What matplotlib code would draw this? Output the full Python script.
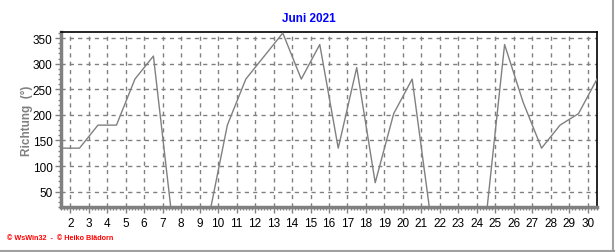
import matplotlib
matplotlib.use("Agg")
import matplotlib.pyplot as plt
from matplotlib.ticker import MultipleLocator, FixedLocator
from matplotlib.lines import Line2D

plt.rcParams['font.family'] = ['Liberation Sans', 'DejaVu Sans']

# Data: wind direction per day (plotted at day + 0.5)
days = list(range(1, 31))
richtung = [135, 135, 180, 180, 270, 315, 0, 0, 0, 180,
            270, 315, 360, 270, 337.5, 135, 292.5, 67.5, 202.5, 270,
            0, 0, 0, 0, 337.5, 225, 135, 180, 202.5, 270]
xtick_days = list(range(2, 31))
yticks = [50, 100, 150, 200, 250, 300, 350]

title = "Juni 2021"
ylabel = "Richtung  (°)"
footer = "© WsWin32  -  © Heiko Blädorn"

W, H = 616, 253
fig = plt.figure(figsize=(W / 100, H / 100), dpi=100)
fig.patch.set_facecolor('white')

L, R, T, B = 61, 597, 33, 208
ax = fig.add_axes([L / W, 1 - B / H, (R - L) / W, (B - T) / H])

xs = [d + 0.5 for d in days]
ax.plot(xs, richtung, color='#808080', lw=1.0, zorder=3, clip_on=True)

ax.set_xlim(1.5, 30.5)
ax.set_ylim(20, 362)

ax.xaxis.set_major_locator(FixedLocator(xtick_days))
ax.xaxis.set_minor_locator(MultipleLocator(1 / 6))
ax.yaxis.set_major_locator(FixedLocator(yticks))
ax.yaxis.set_minor_locator(MultipleLocator(10))

ax.grid(True, which='major', color='#808080', linestyle=(0, (3, 3)), lw=1.0, zorder=1)

ax.tick_params(axis='both', which='major', direction='out', length=4, width=1,
               color='#808080', labelsize=8.5, labelcolor='black', pad=2)
ax.tick_params(axis='both', which='minor', direction='out', length=2, width=1,
               color='#808080')
ax.tick_params(axis='x', which='major', pad=3)

for s in ['top', 'right']:
    ax.spines[s].set_color('black')
    ax.spines[s].set_linewidth(1.2)
for s in ['left', 'bottom']:
    ax.spines[s].set_color('#808080')
    ax.spines[s].set_linewidth(2.5)

fig.text(309 / W, 1 - 19 / H, title, color='#0000FF', fontsize=8.5,
         fontweight='bold', ha='center', va='center')
fig.text(27 / W, 1 - 121 / H, ylabel, color='#808080', fontsize=8.5,
         fontweight='bold', ha='center', va='center', rotation=90)
fig.text(7 / W, 1 - 239 / H, footer, color='#FF0000', fontsize=5.2,
         fontweight='bold', ha='left', va='center')

# outer frame (right and bottom shadow lines)
fig.add_artist(Line2D([613 / W, 613 / W], [1 - 252 / H, 1.0], transform=fig.transFigure,
                      color='#A0A0A0', lw=1.5))
fig.add_artist(Line2D([0, 614 / W], [1 - 251.5 / H, 1 - 251.5 / H], transform=fig.transFigure,
                      color='#A0A0A0', lw=1.5))

fig.savefig('out.png', dpi=100, facecolor='white')
